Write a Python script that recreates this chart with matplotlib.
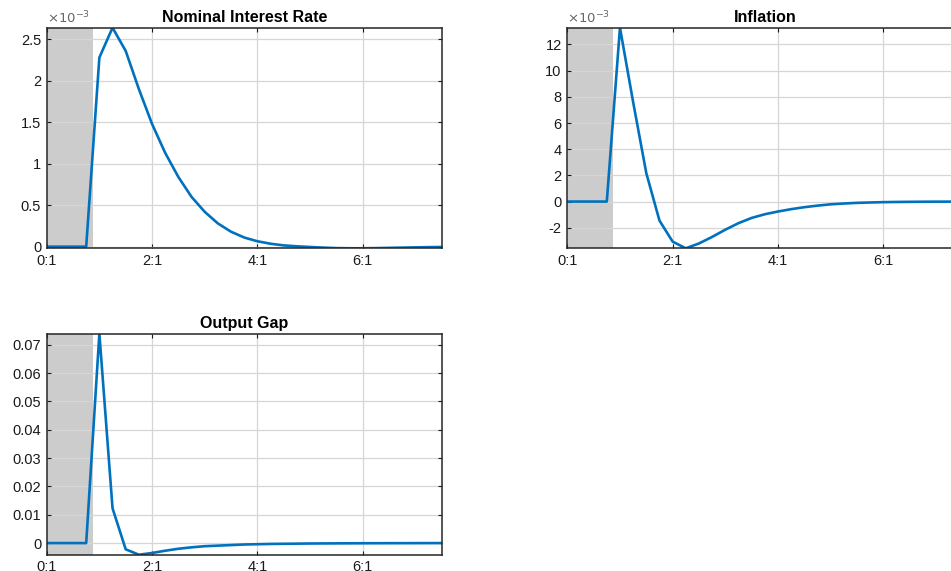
import numpy as np
import matplotlib
matplotlib.use("Agg")
import matplotlib.pyplot as plt
from matplotlib.ticker import FuncFormatter

# quarters since 0:1
quarters = list(range(0, 31))
xtick_pos = [0, 8, 16, 24]
xtick_labels = ["0:1", "2:1", "4:1", "6:1"]
shade_end = 3.5

# nominal interest rate, x 1e-3
interest_rate = [0, 0, 0, 0, 2.28, 2.64, 2.36, 1.90, 1.48, 1.13, 0.84, 0.60, 0.42,
                 0.28, 0.18, 0.11, 0.065, 0.035, 0.015, 0.004, -0.004, -0.012, -0.018,
                 -0.02, -0.02, -0.018, -0.015, -0.012, -0.009, -0.006, -0.004]

# inflation, x 1e-3
inflation = [0, 0, 0, 0, 13.28, 7.6, 2.17, -1.45, -3.06, -3.57, -3.2, -2.7, -2.15,
             -1.65, -1.25, -0.97, -0.76, -0.58, -0.43, -0.31, -0.21, -0.15, -0.10,
             -0.07, -0.045, -0.03, -0.02, -0.012, -0.008, -0.005, -0.003]

# output gap
output_gap = [0, 0, 0, 0, 0.0739, 0.0123, -0.0022, -0.0041, -0.0035, -0.0027, -0.0020,
              -0.0015, -0.0011, -0.0009, -0.0007, -0.0005, -0.0004, -0.0003, -0.00025,
              -0.0002, -0.00015, -0.00012, -0.0001, -0.00008, -0.00006, -0.00005,
              -0.00004, -0.00003, -0.00002, -0.00001, 0.0]

interest_ticks = [0, 0.5, 1, 1.5, 2, 2.5]
inflation_ticks = [-2, 0, 2, 4, 6, 8, 10, 12]
gap_ticks = [0, 0.01, 0.02, 0.03, 0.04, 0.05, 0.06, 0.07]

plt.rcParams['font.family'] = ['Liberation Sans', 'DejaVu Sans']

W, H = 951, 571
fig = plt.figure(figsize=(W / 100, H / 100), dpi=100)

line_color = '#0072BD'
text_color = '#1a1a1a'


def px_axes(left, top, right, bottom):
    return fig.add_axes([left / W, 1 - bottom / H, (right - left) / W, (bottom - top) / H])


def draw_panel(ax, y, title, yticks, scaled):
    ax.axvspan(-1, shade_end, color='#cccccc', lw=0, zorder=0)
    ax.plot(quarters, y, color=line_color, lw=1.9, zorder=3)
    ax.set_xlim(0, 30)
    ax.set_ylim(min(y), max(y))
    ax.set_xticks(xtick_pos)
    ax.set_xticklabels(xtick_labels)
    ax.set_yticks(yticks)
    ax.yaxis.set_major_formatter(FuncFormatter(lambda v, p: '%g' % v))
    ax.grid(True, color='#d6d6d6', lw=0.9, zorder=1)
    ax.set_axisbelow(True)
    ax.tick_params(direction='in', length=3, width=0.8, top=True, right=True,
                   labelsize=10.5, colors=text_color, pad=4)
    for s in ax.spines.values():
        s.set_color('#262626')
        s.set_linewidth(1.1)
        s.set_zorder(4)
    ax.set_title(title, fontsize=11.5, fontweight='bold', pad=4, color='black')
    if scaled:
        ax.text(0.0, 1.005, r'$\times10^{-3}$', transform=ax.transAxes, ha='left',
                va='bottom', fontsize=9.5, color='#666666')


ax1 = px_axes(46.7, 27.7, 441.7, 248.3)
draw_panel(ax1, interest_rate, 'Nominal Interest Rate', interest_ticks, True)

ax2 = px_axes(567.3, 27.7, 567.3 + 395, 248.3)
draw_panel(ax2, inflation, 'Inflation', inflation_ticks, True)

ax3 = px_axes(46.7, 333.7, 441.7, 554.7)
draw_panel(ax3, output_gap, 'Output Gap', gap_ticks, False)

fig.savefig('out.png', dpi=100)
